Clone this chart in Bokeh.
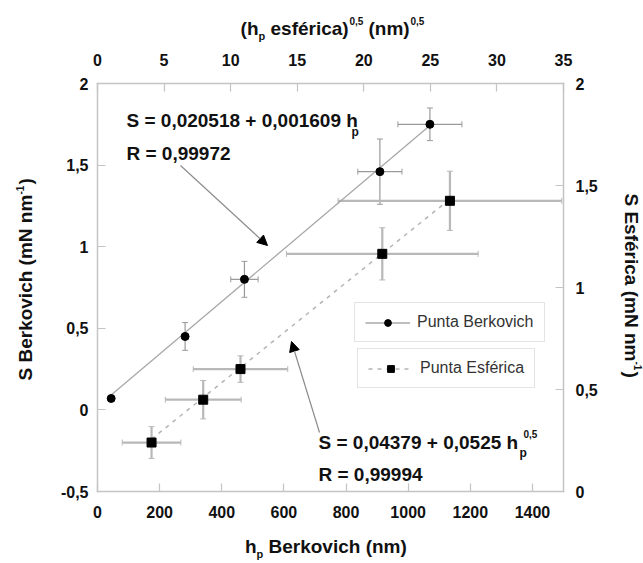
import math
from bokeh.plotting import figure
from bokeh.models import (Range1d, LinearAxis, FixedTicker, CustomJSTickFormatter, Whisker,
                          TeeHead, ColumnDataSource, Label, Arrow, NormalHead, Legend, LegendItem)
from bokeh.embed import file_html
from bokeh.resources import INLINE

# ---------------- data ----------------
berk_h = [44, 282, 473, 909, 1070]            # nm
berk_S = [0.07, 0.45, 0.80, 1.46, 1.75]        # mN/nm
berk_h_err = [0, 10, 44, 71, 103]
berk_S_err = [0, 0.085, 0.11, 0.20, 0.10]

esf_sqrt_h = [4.06, 7.94, 10.74, 21.39, 26.47]  # nm^0.5
esf_S = [0.24, 0.45, 0.60, 1.165, 1.425]
esf_sqrt_h_err = [2.2, 2.85, 3.55, 7.2, 8.4]
esf_S_err = [0.078, 0.094, 0.065, 0.128, 0.145]

berk_fit = [0.020518, 0.001609]   # intercept, slope
esf_fit = [0.04379, 0.0525]

bottom_ticks = [0, 200, 400, 600, 800, 1000, 1200, 1400]
left_ticks = [-0.5, 0, 0.5, 1, 1.5, 2]
top_ticks = [0, 5, 10, 15, 20, 25, 30, 35]
right_ticks = [0, 0.5, 1, 1.5, 2]

legend_labels = ["Punta Berkovich", "Punta Esférica"]

# ---------------- layout ----------------
FONT = "Liberation Sans"
W, H = 643, 563
FL, FT, FW, FH = 97, 83, 466, 408   # plotting box in page pixels
X0, X1, Y0, Y1 = 0, 1500, -0.5, 2    # bottom / left axes
S0, S1, E0, E1 = 0, 35, 0, 2         # top / right axes

def span(lo, hi, first, length, total):
    k = (hi - lo) / length
    return lo - first * k, hi + (total - first - length) * k

xr = span(X0, X1, FL, FW, W)
sr = span(S0, S1, FL, FW, W)
yb = span(Y1, Y0, FT, FH, H)   # top -> bottom
eb = span(E1, E0, FT, FH, H)

p = figure(width=W, height=H, min_border=0,
           x_range=Range1d(*xr), y_range=Range1d(yb[1], yb[0]),
           output_backend="svg", toolbar_location=None)
p.extra_x_ranges = {"sqrt": Range1d(*sr)}
p.extra_y_ranges = {"esf": Range1d(eb[1], eb[0])}
p.xgrid.visible = False
p.ygrid.visible = False
p.outline_line_color = None
p.background_fill_color = "white"
p.border_fill_color = "white"

fmt = CustomJSTickFormatter(code="return tick.toString().replace('.', ',');")

def style_axis(ax, ticks, standoff, loc, bounds):
    ax.fixed_location = loc
    ax.bounds = bounds
    ax.ticker = FixedTicker(ticks=ticks)
    ax.formatter = fmt
    ax.axis_line_color = "#c4c4c4"
    ax.axis_line_width = 1.5
    ax.axis_line_cap = "square"
    ax.major_tick_line_color = "#c4c4c4"
    ax.major_tick_line_width = 1.2
    ax.major_tick_in = 8
    ax.major_tick_out = 0
    ax.minor_tick_line_color = None
    ax.major_label_text_font = FONT
    ax.major_label_text_font_style = "bold"
    ax.major_label_text_font_size = "16px"
    ax.major_label_text_color = "#111111"
    ax.major_label_standoff = standoff

style_axis(p.xaxis[0], bottom_ticks, 14, Y0, (X0, X1))
style_axis(p.yaxis[0], left_ticks, 9, X0, (Y0, Y1))
top_axis = LinearAxis(x_range_name="sqrt")
p.add_layout(top_axis, "above")
style_axis(top_axis, top_ticks, 18, Y1, (S0, S1))
right_axis = LinearAxis(y_range_name="esf")
p.add_layout(right_axis, "right")
style_axis(right_axis, right_ticks, 12, X1, (E0, E1))

# ---------------- fit lines ----------------
bx = [min(berk_h), max(berk_h)]
by = [berk_fit[0] + berk_fit[1] * v for v in bx]
berk_line = p.line(bx, by, line_color="#a8a8a8", line_width=1.3)

ex = [min(esf_sqrt_h), max(esf_sqrt_h)]
ey = [esf_fit[0] + esf_fit[1] * v for v in ex]
esf_line = p.line(ex, ey, line_color="#b4b4b4", line_width=1.5, line_dash="4 5",
                  x_range_name="sqrt", y_range_name="esf")

# ---------------- error bars ----------------
src_b = ColumnDataSource(dict(
    x=berk_h, y=berk_S,
    xl=[a - e for a, e in zip(berk_h, berk_h_err)], xu=[a + e for a, e in zip(berk_h, berk_h_err)],
    yl=[a - e for a, e in zip(berk_S, berk_S_err)], yu=[a + e for a, e in zip(berk_S, berk_S_err)]))
src_e = ColumnDataSource(dict(
    x=esf_sqrt_h, y=esf_S,
    xl=[a - e for a, e in zip(esf_sqrt_h, esf_sqrt_h_err)], xu=[a + e for a, e in zip(esf_sqrt_h, esf_sqrt_h_err)],
    yl=[a - e for a, e in zip(esf_S, esf_S_err)], yu=[a + e for a, e in zip(esf_S, esf_S_err)]))

def whiskers(src, color, width, **rng):
    for dim, base, lo, up in (("width", "y", "xl", "xu"), ("height", "x", "yl", "yu")):
        w = Whisker(source=src, base=base, lower=lo, upper=up, dimension=dim,
                    line_color=color, line_width=width, level="underlay",
                    lower_head=TeeHead(size=6, line_color=color, line_width=1),
                    upper_head=TeeHead(size=6, line_color=color, line_width=1), **rng)
        p.add_layout(w)

whiskers(src_b, "#9a9a9a", 1.2)
whiskers(src_e, "#b8b8b8", 2.2, x_range_name="sqrt", y_range_name="esf")

# ---------------- points ----------------
berk_pts = p.scatter(berk_h, berk_S, marker="circle", size=8, color="black")
esf_pts = p.scatter(esf_sqrt_h, esf_S, marker="square", size=9, color="black",
                    x_range_name="sqrt", y_range_name="esf")

# ---------------- legends (two separate boxes) ----------------
def make_legend(label, renderers, left, bottom):
    lg = Legend(items=[LegendItem(label=label, renderers=renderers)], location=(left, H - bottom),
                glyph_width=45, glyph_height=17, label_height=17, label_standoff=7,
                padding=10, margin=0, spacing=0,
                border_line_color="#c8c8c8", border_line_width=1.5,
                background_fill_color="white", background_fill_alpha=1.0,
                label_text_font=FONT, label_text_font_size="16px", label_text_color="#333333")
    p.add_layout(lg)

make_legend(legend_labels[0], [berk_line, berk_pts], 354, 342)
make_legend(legend_labels[1], [esf_line, esf_pts], 357, 388)

# ---------------- text helpers (page pixel -> data) ----------------
def dx(px):
    return X0 + (px - FL) / FW * (X1 - X0)

def dy(py):
    return Y1 - (py - FT) / FH * (Y1 - Y0)

def lab(text, px, py, size, align="left", angle=0.0, bold=True, color="#111111"):
    p.add_layout(Label(x=dx(px), y=dy(py), text=text, text_font=FONT,
                       text_font_size=f"{size}px", text_font_style="bold" if bold else "normal",
                       text_align=align, text_baseline="middle", angle=angle, text_color=color))

# top axis title: (h_p esférica)^0,5 (nm)^0,5
lab("(h", 258, 28, 19, align="right")
lab("p", 258, 35, 11)
lab("esférica)", 270, 28, 19)
lab("0,5", 349, 20, 10)
lab("(nm)", 368, 28, 19)
lab("0,5", 410, 20, 10)

# bottom axis title: h_p Berkovich (nm)
lab("h", 256, 546, 19, align="right")
lab("p", 256, 553, 11)
lab("Berkovich (nm)", 268, 546, 19)

# left axis title (rotated)
lab("S Berkovich (mN nm", 25, 380, 19, angle=math.pi / 2)
lab("-1", 19, 194, 10, angle=math.pi / 2)
lab(")", 25, 184, 19, angle=math.pi / 2)

# right axis title (rotated)
lab("S Esférica (mN nm", 631, 193, 19, angle=-math.pi / 2)
lab("-1", 637, 361, 10, angle=-math.pi / 2)
lab(")", 631, 371, 19, angle=-math.pi / 2)

# equations
lab("S = 0,020518 + 0,001609 h", 126, 120, 19)
lab("p", 351, 131, 12)
lab("R = 0,99972", 126, 153, 19)

lab("S = 0,04379 + 0,0525 h", 318, 442, 19)
lab("p", 519, 452, 12)
lab("0,5", 523, 433, 10)
lab("R = 0,99994", 318, 474, 19)

# arrows
for (sx, sy, ex_, ey_) in ((180, 165, 267, 245), (319, 432, 291, 341)):
    p.add_layout(Arrow(x_start=dx(sx), y_start=dy(sy), x_end=dx(ex_), y_end=dy(ey_),
                       line_color="#8c8c8c", line_width=1.2,
                       end=NormalHead(size=10, fill_color="black", line_color="black", line_width=1)))

open("out.html", "w").write(file_html(p, INLINE))
